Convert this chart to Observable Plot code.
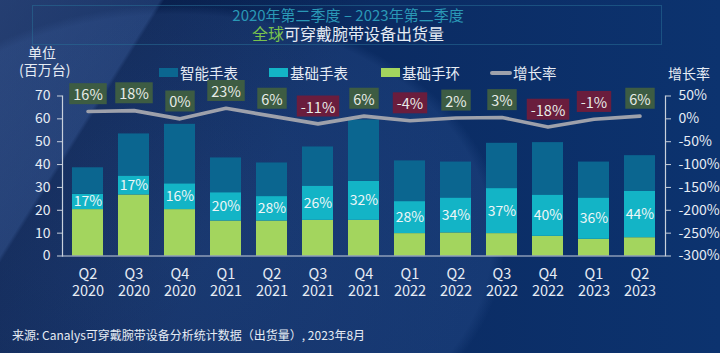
<!DOCTYPE html>
<html>
<head>
<meta charset="utf-8">
<script src="https://cdn.jsdelivr.net/npm/d3@7"></script>
<script src="https://cdn.jsdelivr.net/npm/@observablehq/plot@0.6"></script>
<style>
  html, body { margin: 0; padding: 0; }
  body { width: 720px; height: 353px; overflow: hidden; font-family: "Noto Sans CJK SC", "Noto Sans", sans-serif; }
  #wrap {
    position: relative; width: 720px; height: 353px; overflow: hidden;
    background:
      radial-gradient(ellipse 330px 235px at 175px 240px, rgba(80,120,190,0.22) 0, rgba(80,120,190,0.16) 96%, rgba(80,120,190,0) 100%),
      linear-gradient(122deg, rgba(70,95,150,0.45) 0, rgba(70,95,150,0.30) 17%, rgba(8,20,55,0.35) 17.5%, rgba(8,20,55,0) 40%),
      linear-gradient(90deg, #0a2454 0%, #0b2b62 50%, #0c336f 100%);
  }
  .abs { position: absolute; white-space: nowrap; line-height: 1; }
  #titlebox { position: absolute; left: 32px; top: 5px; width: 630px; height: 40px; border: 1px solid rgba(40,110,150,0.55); box-sizing: border-box; }
  #t1 { left: 0; width: 720px; text-align: center; top: 7px; font-size: 15px; color: #2a98b6; margin-left: -12px; }
  #t2 { left: 0; width: 720px; text-align: center; top: 25px; font-size: 16px; color: #e6ecf4; margin-left: -12px; }
  #t2 .g { color: #79c24e; }
  .unit { color: #e6ecf4; font-size: 14px; }
  .leg { position: absolute; top: 62px; display: flex; align-items: center; color: #e6ecf4; font-size: 14.5px; white-space: nowrap; }
  .sw { width: 19px; height: 9px; margin-right: 2px; }
  .ln { width: 22px; height: 4px; border-radius: 2px; background: #9ea1ab; margin-right: 1px; }
  #foot { left: 12px; top: 329px; font-size: 12px; color: #e6ecf4; }
  #chart { position: absolute; left: 0; top: 78px; }
</style>
</head>
<body>
<div id="wrap">
  <div id="titlebox"></div>
  <div id="t1" class="abs">2020年第二季度 – 2023年第二季度</div>
  <div id="t2" class="abs"><span class="g">全球</span>可穿戴腕带设备出货量</div>
  <div class="abs unit" style="left:28px; top:45px;">单位</div>
  <div class="abs unit" style="left:19px; top:62px;">(百万台)</div>
  <div class="abs unit" style="left:668px; top:66px;">增长率</div>
  <div id="legend"></div>
  <div id="chart"></div>
  <div id="foot" class="abs">来源: Canalys可穿戴腕带设备分析统计数据（出货量）, 2023年8月</div>
</div>
<script>
// ---- data ----
const categories = ["Q2 2020","Q3 2020","Q4 2020","Q1 2021","Q2 2021","Q3 2021","Q4 2021","Q1 2022","Q2 2022","Q3 2022","Q4 2022","Q1 2023","Q2 2023"];
const seriesNames = ["智能手表", "基础手表", "基础手环"];
const seriesColors = ["#0b6690", "#13b4c6", "#a3d55e"];
const smartWatchValues = [11.6, 18.4, 26.0, 15.2, 14.7, 17.1, 26.8, 17.8, 15.7, 19.8, 22.9, 15.7, 15.5];
const basicWatchValues = [6.7, 8.3, 11.3, 12.4, 10.7, 15.0, 17.1, 14.0, 15.3, 19.7, 18.1, 18.1, 20.4];
const basicBandValues  = [20.3, 26.7, 20.3, 15.3, 15.3, 15.6, 15.6, 9.8, 10.1, 9.8, 8.6, 7.3, 8.0];
const basicShareLabels = ["17%","17%","16%","20%","28%","26%","32%","28%","34%","37%","40%","36%","44%"];
const growthValues = [16, 18, 0, 23, 6, -11, 6, -4, 2, 3, -18, -1, 6];
const growthName = "增长率";
const leftTicks = [0, 10, 20, 30, 40, 50, 60, 70];
const growthTicks = [50, 0, -50, -100, -150, -200, -250, -300];

// secondary axis: growth [-300%, 50%] maps onto shipments [0, 70]
const leftMax = 70, gMin = -300, gMax = 50;
const g2y = g => (g - gMin) / (gMax - gMin) * leftMax;

// ---- legend ----
const legend = document.getElementById("legend");
const legPos = [159, 269, 381];
seriesNames.forEach((s, i) => {
  const el = document.createElement("div");
  el.className = "leg";
  el.style.left = legPos[i] + "px";
  el.innerHTML = `<div class="sw" style="background:${seriesColors[i]}"></div><span>${s}</span>`;
  legend.appendChild(el);
});
{
  const el = document.createElement("div");
  el.className = "leg";
  el.style.left = "490px";
  el.innerHTML = `<div class="ln"></div><span>${growthName}</span>`;
  legend.appendChild(el);
}

// ---- tables ----
const stackOrder = ["基础手环", "基础手表", "智能手表"];
const rows = [];
categories.forEach((c, i) => {
  rows.push({cat: c, series: "基础手环", value: basicBandValues[i]});
  rows.push({cat: c, series: "基础手表", value: basicWatchValues[i]});
  rows.push({cat: c, series: "智能手表", value: smartWatchValues[i]});
});
const shareRows = categories.map((c, i) => ({cat: c, y: basicBandValues[i] + basicWatchValues[i] / 2, label: basicShareLabels[i]}));
const growthRows = categories.map((c, i) => ({cat: c, g: growthValues[i], y: g2y(growthValues[i]), label: growthValues[i] + "%"}));

const axisColor = "#c8d0dc";
const txt = "#e6ecf4";

const plot = Plot.plot({
  width: 720,
  height: 232,
  marginTop: 17.5,
  marginBottom: 54.5,
  marginLeft: 62,
  marginRight: 55,
  style: { fontFamily: '"Noto Sans CJK SC", "Noto Sans", sans-serif', color: txt, background: "transparent", overflow: "visible" },
  x: { domain: categories, paddingInner: 0.33, paddingOuter: 0.185, label: null },
  y: { domain: [0, leftMax], label: null },
  color: { domain: seriesNames, range: seriesColors },
  marks: [
    Plot.barY(rows, { x: "cat", y: "value", fill: "series", order: stackOrder }),
    Plot.text(shareRows, { x: "cat", y: "y", text: "label", fill: "#eef6f8", fontSize: 14 }),
    Plot.line(growthRows, { x: "cat", y: "y", stroke: "#9ea1ab", strokeWidth: 3.6, curve: "linear" }),
    Plot.text(growthRows, { x: "cat", y: "y", text: "label", dy: -16, fill: "#e8ece8", fontSize: 14.5, className: "growth-lbl" }),
    Plot.ruleY([0], { stroke: axisColor, strokeWidth: 1.2 }),
    Plot.frame({ anchor: "left", stroke: axisColor, strokeWidth: 1.2 }),
    Plot.frame({ anchor: "right", stroke: axisColor, strokeWidth: 1.2 }),
    Plot.axisY({ anchor: "left", ticks: leftTicks, tickSize: 5, tickPadding: 7, fontSize: 14, stroke: axisColor, fill: txt, label: null }),
    Plot.axisY({ anchor: "right", ticks: growthTicks.map(g2y), tickFormat: v => Math.round(v / leftMax * (gMax - gMin) + gMin) + "%", tickSize: 5, tickPadding: 8, fontSize: 14, stroke: axisColor, fill: txt, label: null }),
    Plot.axisX({ tickSize: 0, tickPadding: 13, fontSize: 14.5, tickFormat: d => d.split(" ")[0], fill: txt, label: null }),
    Plot.axisX({ tickSize: 0, tickPadding: 30, fontSize: 14.5, tickFormat: d => d.split(" ")[1], fill: txt, label: null })
  ]
});
document.getElementById("chart").appendChild(plot);

// boxes behind growth labels (inserted in the same group so they share its offset)
const g = plot.querySelector("g.growth-lbl");
if (g) {
  const ns = "http://www.w3.org/2000/svg";
  Array.from(g.querySelectorAll("text")).forEach(t => {
    const b = t.getBBox();
    const neg = t.textContent.trim().startsWith("-");
    const r = document.createElementNS(ns, "rect");
    const tr = t.getAttribute("transform");
    r.setAttribute("x", b.x - 4);
    r.setAttribute("width", b.width + 8);
    r.setAttribute("y", b.y + b.height / 2 - 10.5);
    r.setAttribute("height", 21);
    r.setAttribute("fill", neg ? "#6a1d3d" : "#3d5c43");
    if (tr) r.setAttribute("transform", tr);
    t.parentNode.insertBefore(r, t);
  });
}
</script>
</body>
</html>
